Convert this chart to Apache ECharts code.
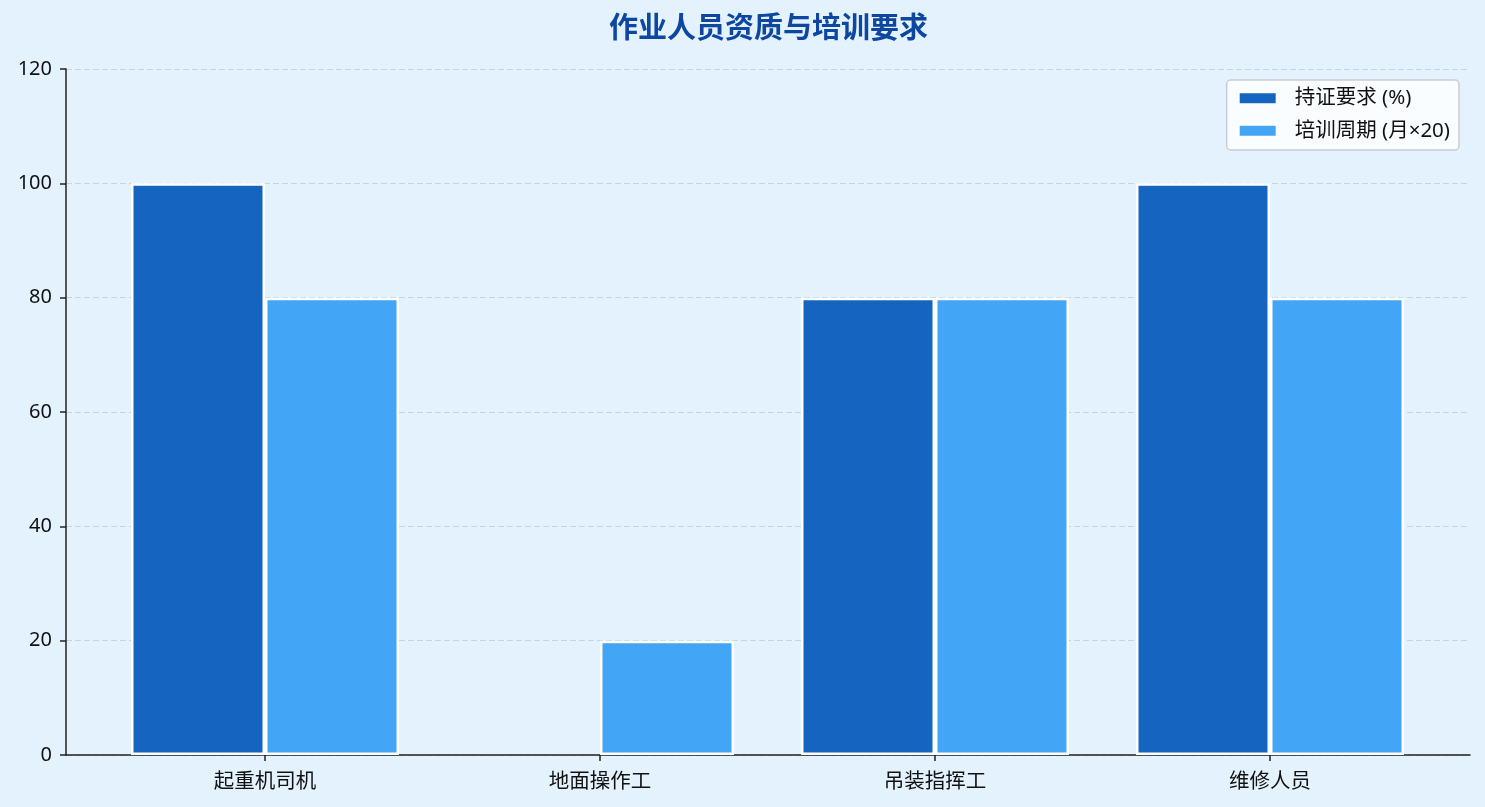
<!DOCTYPE html>
<html>
<head>
<meta charset="utf-8">
<script src="https://cdn.jsdelivr.net/npm/echarts@6/dist/echarts.min.js"></script>
<style>
  html, body { margin: 0; padding: 0; background: #E3F2FD; }
  #chart { width: 1485px; height: 807px; }
</style>
</head>
<body>
<div id="chart"></div>
<script>
// 作业人员资质与培训要求
var categories = ['起重机司机', '地面操作工', '吊装指挥工', '维修人员'];
var certData = [100, 0, 80, 100];      // 持证要求 (%)
var trainData = [80, 20, 80, 80];      // 培训周期 (月×20)
var yTicks = [0, 20, 40, 60, 80, 100, 120];

var FONT = '"Noto Sans CJK SC", "Noto Sans", sans-serif';
var LATIN_FIRST = '"Noto Sans", "Noto Sans CJK SC", sans-serif';
var AXIS_COLOR = '#222222';

// zero-height bars: no white edge so the spine stays visible
function barItems(arr) {
    return arr.map(function (v) {
        return v === 0 ? { value: v, itemStyle: { borderWidth: 0 } } : v;
    });
}

var chart = echarts.init(document.getElementById('chart'));
var option = {
    backgroundColor: '#E3F2FD',
    textStyle: { fontFamily: FONT },
    title: {
        text: '作业人员资质与培训要求',
        left: 604,
        top: 7,
        textStyle: {
            color: '#0D47A1',
            fontSize: 29,
            fontWeight: 'bold',
            fontFamily: FONT
        }
    },
    legend: {
        orient: 'vertical',
        right: 26,
        top: 80,
        padding: [8, 9, 9, 11],
        itemWidth: 38,
        itemHeight: 12,
        itemGap: 12,
        icon: 'rect',
        backgroundColor: 'rgba(255,255,255,0.8)',
        borderColor: '#cccccc',
        borderWidth: 1.5,
        borderRadius: 4,
        textStyle: {
            fontSize: 20.5,
            color: '#111111',
            fontFamily: LATIN_FIRST,
            padding: [0, 0, 0, 13]
        },
        data: ['持证要求 (%)', '培训周期 (月×20)']
    },
    grid: [
        // frame grid: axes spines and y ticks
        { left: 66, right: 15, top: 69, bottom: 52 },
        // bar grid: narrower so category centres match the reference
        { left: 97.5, right: 47.5, top: 69, bottom: 52 }
    ],
    xAxis: [
        {
            gridIndex: 0,
            type: 'value',
            min: 0,
            max: 1,
            axisLine: { show: true, lineStyle: { color: AXIS_COLOR, width: 1.5 } },
            axisTick: { show: false },
            axisLabel: { show: false },
            splitLine: { show: false }
        },
        {
            gridIndex: 1,
            type: 'category',
            data: categories,
            axisLine: { show: false },
            axisTick: {
                show: true,
                alignWithLabel: true,
                length: 6,
                lineStyle: { color: AXIS_COLOR, width: 1.5 }
            },
            axisLabel: {
                fontSize: 20.5,
                color: '#111111',
                margin: 15,
                fontFamily: FONT
            }
        }
    ],
    yAxis: [
        {
            gridIndex: 0,
            type: 'value',
            min: yTicks[0],
            max: yTicks[yTicks.length - 1],
            interval: 20,
            axisLine: { show: true, lineStyle: { color: AXIS_COLOR, width: 1.5 } },
            axisTick: { show: true, length: 6, lineStyle: { color: AXIS_COLOR, width: 1.5 } },
            axisLabel: { fontSize: 20, color: '#111111', margin: 14, fontFamily: LATIN_FIRST },
            splitLine: {
                show: true,
                lineStyle: { color: '#c9d3dc', type: [6, 3], width: 1 }
            }
        },
        {
            gridIndex: 1,
            type: 'value',
            min: yTicks[0],
            max: yTicks[yTicks.length - 1],
            show: false
        }
    ],
    series: [
        {
            name: '持证要求 (%)',
            type: 'bar',
            xAxisIndex: 1,
            yAxisIndex: 1,
            barWidth: '40%',
            barGap: '0%',
            itemStyle: { color: '#1565C0', borderColor: '#ffffff', borderWidth: 2.5 },
            data: barItems(certData)
        },
        {
            name: '培训周期 (月×20)',
            type: 'bar',
            xAxisIndex: 1,
            yAxisIndex: 1,
            barWidth: '40%',
            barGap: '0%',
            itemStyle: { color: '#42A5F5', borderColor: '#ffffff', borderWidth: 2.5 },
            data: barItems(trainData)
        }
    ]
};
chart.setOption(option);
</script>
</body>
</html>
